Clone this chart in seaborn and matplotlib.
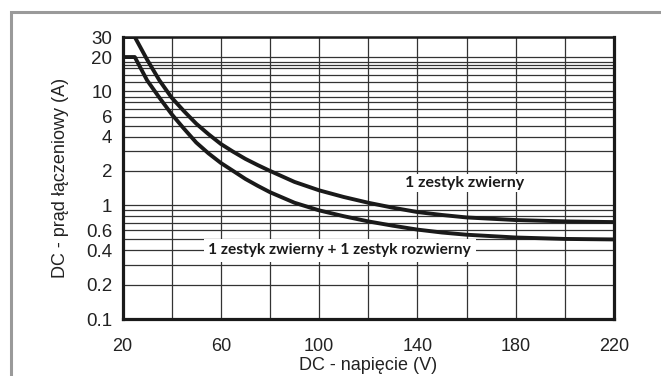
import matplotlib
matplotlib.use("Agg")
import matplotlib.pyplot as plt
import matplotlib.ticker as mticker
from matplotlib.patches import Rectangle
import seaborn as sns
import pandas as pd

# ---- data ----
upper_v = [20, 25, 30, 35, 40, 45, 50, 55, 60, 65, 70, 75, 80, 90, 100, 110, 120, 130, 140, 150, 160, 180, 200, 220]
upper_i = [30, 30, 19, 12.5, 8.8, 6.7, 5.2, 4.2, 3.45, 2.95, 2.55, 2.25, 2.0, 1.6, 1.35, 1.18, 1.05, 0.95, 0.87, 0.82, 0.78, 0.74, 0.72, 0.71]
lower_v = [20, 25, 30, 35, 40, 45, 50, 55, 60, 65, 70, 75, 80, 90, 100, 110, 120, 130, 140, 150, 160, 180, 200, 220]
lower_i = [20, 20, 12.5, 8.8, 6.3, 4.7, 3.55, 2.85, 2.35, 2.0, 1.7, 1.48, 1.3, 1.05, 0.9, 0.8, 0.72, 0.66, 0.61, 0.575, 0.55, 0.52, 0.505, 0.50]
upper_name = "1 zestyk zwierny"
lower_name = "1 zestyk zwierny + 1 zestyk rozwierny"

x_ticks = [20, 60, 100, 140, 180, 220]
x_grid = [40, 60, 80, 100, 120, 140, 160, 180, 200]
y_ticks = [0.1, 0.2, 0.4, 0.6, 1, 2, 4, 6, 10, 20, 30]
y_tick_labels = ["0.1", "0.2", "0.4", "0.6", "1", "2", "4", "6", "10", "20", "30"]
y_minor_grid = [0.3, 0.5, 0.7, 0.8, 0.9, 3, 5, 7, 8, 9, 12, 14, 16, 17, 18]

df = pd.concat([
    pd.DataFrame({"V": upper_v, "I": upper_i, "curve": upper_name}),
    pd.DataFrame({"V": lower_v, "I": lower_i, "curve": lower_name}),
])

sns.set_style("white")
plt.rcParams["font.family"] = ["Liberation Sans", "DejaVu Sans"]

W, H = 661, 376
fig = plt.figure(figsize=(W / 100, H / 100), dpi=100)
ax = fig.add_axes([122.5 / W, 1 - 319 / H, (614 - 122.5) / W, (319 - 37) / H])

# outer grey frame
fig.patches.append(Rectangle((10.5 / W, -0.1), 1.2, 1 - 12 / H + 0.1, transform=fig.transFigure,
                             fill=False, edgecolor="#9a9a9a", linewidth=2.2, zorder=0))

sns.lineplot(data=df, x="V", y="I", hue="curve", palette=["#1a1a1a", "#1a1a1a"],
             linewidth=2.8, legend=False, ax=ax, zorder=5)

ax.set_yscale("log")
ax.set_xlim(20, 220)
ax.set_ylim(0.1, 30)

ax.set_xticks(x_ticks)
ax.set_xticklabels([str(t) for t in x_ticks])
ax.xaxis.set_minor_locator(mticker.FixedLocator(x_grid))
ax.yaxis.set_major_locator(mticker.FixedLocator(y_ticks))
ax.yaxis.set_major_formatter(mticker.FixedFormatter(y_tick_labels))
ax.yaxis.set_minor_locator(mticker.FixedLocator(y_minor_grid))
ax.yaxis.set_minor_formatter(mticker.NullFormatter())

ax.tick_params(axis="y", which="major", direction="out", length=6.5, width=0.9,
               color="#222222", pad=1, labelsize=13.5, labelcolor="#222222")
ax.tick_params(axis="x", which="major", direction="out", length=3, width=0.9,
               color="#222222", pad=11, labelsize=13, labelcolor="#222222")
ax.tick_params(which="minor", length=0)

ax.grid(False)
for xv in x_grid:
    ax.axvline(xv, color="#333333", linewidth=0.9, zorder=1)
for yv in y_ticks + y_minor_grid:
    ax.axhline(yv, color="#333333", linewidth=0.9, zorder=1)

for side in ["left", "bottom", "right", "top"]:
    ax.spines[side].set_visible(True)
    ax.spines[side].set_color("#1a1a1a")
ax.spines["left"].set_linewidth(2.3)
ax.spines["bottom"].set_linewidth(2.3)
ax.spines["right"].set_linewidth(2.3)
ax.spines["top"].set_linewidth(1.8)

ax.set_xlabel("DC - napięcie (V)", fontsize=13, color="#222222", labelpad=1)
ax.set_ylabel("DC - prąd łączeniowy (A)", fontsize=13, color="#222222", labelpad=12)

ann_font = dict(family=["Lato", "DejaVu Sans"], fontweight="bold", color="#1a1a1a")
ax.text(159.2, 1.56, upper_name, ha="center", va="center", zorder=6, fontsize=11.5,
        bbox=dict(boxstyle="square,pad=0.12", facecolor="white", edgecolor="none"), **ann_font)
ax.text(108.4, 0.4, lower_name, ha="center", va="center", zorder=6, fontsize=11.2,
        bbox=dict(boxstyle="square,pad=0.3", facecolor="white", edgecolor="none"), **ann_font)

fig.savefig("out.png", dpi=100)
